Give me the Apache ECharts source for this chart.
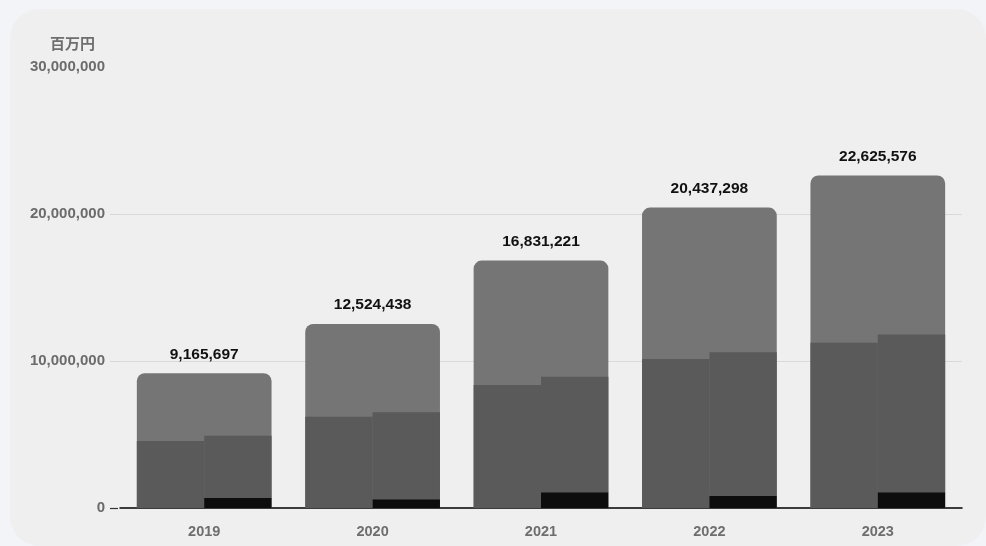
<!DOCTYPE html>
<html>
<head>
<meta charset="utf-8">
<script src="https://cdn.jsdelivr.net/npm/echarts@6/dist/echarts.min.js"></script>
<style>
html,body{margin:0;padding:0;background:#f2f4f8;}
#c{width:986px;height:546px;}
</style>
</head>
<body>
<div id="c"></div>
<script>
const years = ['2019', '2020', '2021', '2022', '2023'];
const totals = [9165697, 12524438, 16831221, 20437298, 22625576];
const leftValues = [4560000, 6210000, 8370000, 10140000, 11250000];
const rightValues = [4920000, 6510000, 8930000, 10590000, 11810000];
const blackValues = [700000, 590000, 1070000, 840000, 1070000];
const yTicks = [0, 10000000, 20000000, 30000000];

const font = '"Liberation Sans", Arial, Helvetica, sans-serif';
const fmt = v => v.toLocaleString('en-US');
const rightRest = rightValues.map((v, i) => v - blackValues[i]);
const yMin = yTicks[0], yMax = yTicks[yTicks.length - 1], yStep = yTicks[1] - yTicks[0];

const chart = echarts.init(document.getElementById('c'));
chart.setOption({
  backgroundColor: '#f2f4f8',
  animation: false,
  textStyle: { fontFamily: font },
  graphic: [{
    type: 'rect', z: -10, silent: true,
    shape: { x: 10, y: 9, width: 976, height: 537, r: 30 },
    style: { fill: '#efefef' }
  }],
  grid: { left: 120, right: 24, top: 67, bottom: 38 },
  xAxis: [{
    type: 'category', data: years,
    axisLine: { lineStyle: { color: '#000', width: 1.5 } },
    axisTick: { show: false },
    axisLabel: { color: '#6e6e6e', fontWeight: 'bold', fontSize: 14.5, margin: 16, fontFamily: font }
  }, {
    type: 'category', data: years, show: false
  }],
  yAxis: [{
    type: 'value', min: yMin, max: yMax, interval: yStep,
    name: '百万円',
    nameLocation: 'end',
    nameGap: 16,
    nameTextStyle: { color: '#6e6e6e', fontWeight: 'bold', fontSize: 15, align: 'right', padding: [0, 25, 0, 0], fontFamily: '"Noto Sans CJK JP", sans-serif' },
    axisLine: { show: false },
    axisTick: { show: true, length: 10, customValues: yTicks.slice(1, -1), lineStyle: { color: '#d6d6d6' } },
    axisLabel: { color: '#6b6b6b', fontWeight: 'bold', fontSize: 15, margin: 15, formatter: v => fmt(v), fontFamily: font },
    splitLine: { lineStyle: { color: ['#d9d9d9', '#d9d9d9', '#d9d9d9', 'rgba(0,0,0,0)'], width: 1 } }
  }, {
    type: 'value', min: yMin, max: yMax, interval: yStep, position: 'left', offset: 2,
    axisLine: { show: false },
    axisTick: { show: true, length: 8, customValues: [yTicks[0]], lineStyle: { color: '#333', width: 1.2 } },
    axisLabel: { show: false },
    splitLine: { show: false }
  }],
  series: [{
    type: 'bar', name: 'total', xAxisIndex: 0, data: totals,
    barWidth: '80%', z: 2,
    itemStyle: { color: '#757575', borderRadius: [8, 8, 0, 0] },
    label: { show: true, position: 'top', distance: 11, color: '#111', fontWeight: 'bold', fontSize: 15.5, fontFamily: font, formatter: p => fmt(p.value) }
  }, {
    type: 'bar', name: 'left', xAxisIndex: 1, data: leftValues,
    barWidth: '40%', barGap: '0%', z: 3,
    itemStyle: { color: '#5a5a5a' }
  }, {
    type: 'bar', name: 'rightBlack', xAxisIndex: 1, data: blackValues, stack: 'r',
    barWidth: '40%', barGap: '0%', z: 3,
    itemStyle: { color: '#0d0d0d' }
  }, {
    type: 'bar', name: 'rightRest', xAxisIndex: 1, data: rightRest, stack: 'r',
    barWidth: '40%', barGap: '0%', z: 3,
    itemStyle: { color: '#5a5a5a' }
  }]
});
</script>
</body>
</html>
